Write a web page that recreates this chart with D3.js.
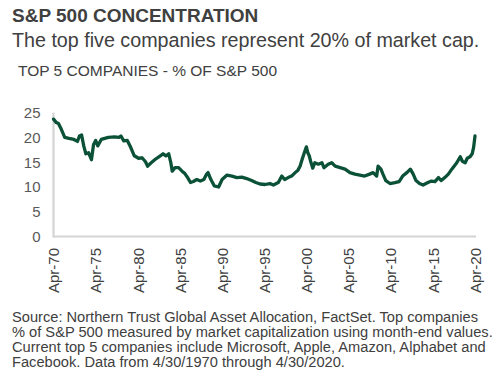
<!DOCTYPE html>
<html>
<head>
<meta charset="utf-8">
<script src="https://cdn.jsdelivr.net/npm/d3@7"></script>
<style>
  html, body { margin: 0; padding: 0; background: #fff; }
  svg { display: block; font-family: "Liberation Sans", Arial, sans-serif; }
</style>
</head>
<body>
<svg id="chart" width="500" height="379"></svg>
<script>
const title = "S&P 500 CONCENTRATION";
const subtitle = "The top five companies represent 20% of market cap.";
const axisTitle = "TOP 5 COMPANIES - % OF S&P 500";
const footnote = [
  "Source: Northern Trust Global Asset Allocation, FactSet. Top companies",
  "% of S&P 500 measured by market capitalization using month-end values.",
  "Current top 5 companies include Microsoft, Apple, Amazon, Alphabet and",
  "Facebook. Data from 4/30/1970 through 4/30/2020."
];

const months = [
  "1970-04","1970-08","1970-11","1971-03","1971-08","1972-02","1972-09","1973-02","1973-05","1973-08",
  "1973-11","1974-02","1974-06","1974-10","1975-01","1975-04","1975-07","1975-12","1976-10","1977-07",
  "1978-01","1978-04","1978-08","1979-01","1979-05","1979-11","1980-05","1980-10","1981-03","1981-06",
  "1981-11","1982-05","1982-12","1983-04","1983-08","1983-12","1984-03","1984-05","1984-09","1985-02",
  "1985-07","1985-11","1986-03","1986-07","1986-11","1987-04","1987-09","1988-02","1988-06","1988-08",
  "1988-12","1989-05","1989-11","1990-04","1990-11","1991-06","1992-01","1992-08","1993-03","1993-10",
  "1994-04","1994-10","1995-05","1995-12","1996-05","1996-12","1997-05","1997-09","1998-02","1998-07",
  "1998-12","1999-04","1999-07","1999-10","2000-01","2000-04","2000-06","2000-08","2000-10","2001-01",
  "2001-04","2001-09","2002-02","2002-05","2002-11","2003-04","2003-09","2004-04","2004-11","2005-06",
  "2006-01","2006-08","2007-03","2007-10","2008-03","2008-08","2008-10","2009-02","2009-05","2009-09",
  "2010-03","2010-10","2011-04","2011-09","2012-03","2012-08","2012-12","2013-04","2013-09","2014-02",
  "2014-09","2015-02","2015-07","2015-12","2016-04","2016-09","2017-02","2017-07","2018-02","2018-07",
  "2018-10","2019-02","2019-05","2019-09","2019-12","2020-02","2020-04"
];
const values = [
  23.7,23.0,22.8,21.7,20.0,19.8,19.6,19.2,20.3,20.5,
  18.3,16.7,16.9,15.5,18.6,19.4,18.3,19.6,20.0,20.1,
  20.0,20.3,19.3,19.4,18.3,16.3,15.8,15.9,15.1,14.2,
  14.9,15.6,16.3,16.7,16.3,16.7,14.9,13.2,13.9,13.9,
  13.2,12.7,11.9,10.9,11.1,11.5,11.2,11.5,12.6,12.9,
  11.5,10.2,10.0,11.5,12.4,12.2,11.9,12.0,11.7,11.3,
  10.9,10.6,10.5,10.7,10.4,10.9,12.2,11.5,11.9,12.2,
  12.9,13.4,14.2,15.6,16.9,18.1,16.9,16.3,15.2,13.8,
  14.9,14.6,14.9,13.9,14.6,14.9,14.2,13.9,13.6,12.9,
  12.6,12.4,12.2,12.6,12.9,12.2,14.2,13.6,12.6,11.3,
  10.7,10.9,11.1,12.2,12.9,13.6,12.6,11.3,10.7,10.4,
  10.9,11.2,11.1,11.9,11.3,11.9,12.6,13.6,14.9,16.1,
  15.2,14.9,15.8,16.1,16.7,18.0,20.3
];
const yTicks = [0, 5, 10, 15, 20, 25];
const xTickYears = [1970, 1975, 1980, 1985, 1990, 1995, 2000, 2005, 2010, 2015, 2020];

const parse = d3.timeParse("%Y-%m");
const data = months.map((m, i) => ({ date: parse(m), value: values[i] }));

const svg = d3.select("#chart");
const textColor = "#404040";

svg.append("text").attr("x", 12).attr("y", 22)
  .attr("font-size", 19).attr("font-weight", "bold").attr("fill", textColor).text(title);
svg.append("text").attr("x", 12).attr("y", 47)
  .attr("font-size", 19.7).attr("fill", textColor).text(subtitle);
svg.append("text").attr("x", 18).attr("y", 76)
  .attr("font-size", 15.5).attr("fill", textColor).text(axisTitle);

const x = d3.scaleTime()
  .domain([parse("1970-04"), parse("2020-04")])
  .range([53.5, 475]);
const y = d3.scaleLinear().domain([0, 25]).range([236.5, 112.7]);

// axes
const xAxis = d3.axisBottom(x)
  .tickValues(xTickYears.map(yr => new Date(yr, 3, 1)))
  .tickFormat(d3.timeFormat("Apr-%y"))
  .tickSize(0).tickPadding(0);
const gx = svg.append("g").attr("transform", `translate(0,${y(0)})`).call(xAxis);
gx.select(".domain").attr("stroke", "#d4d4d4").attr("stroke-width", 2.2)
  .attr("d", `M${x.range()[0]},0H${x.range()[1] + 1}`);
gx.selectAll(".tick text")
  .attr("font-size", 15).attr("fill", textColor)
  .attr("font-family", "Liberation Sans, Arial, sans-serif")
  .attr("text-anchor", "end")
  .attr("dy", "0.35em")
  .attr("transform", "translate(0,11.5) rotate(-90)")
  .attr("x", 0).attr("y", 0);

const yAxis = d3.axisLeft(y).tickValues(yTicks).tickSize(0).tickPadding(13);
const gy = svg.append("g").attr("transform", `translate(${x.range()[0]},0)`).call(yAxis);
gy.select(".domain").attr("stroke", "#d4d4d4").attr("stroke-width", 2.2)
  .attr("d", `M0,${y(25)}V${y(0) + 1}`);
gy.selectAll(".tick text")
  .attr("font-size", 15).attr("fill", "#595959")
  .attr("font-family", "Liberation Sans, Arial, sans-serif");

// line
const line = d3.line().x(d => x(d.date)).y(d => y(d.value));
svg.append("path").datum(data)
  .attr("fill", "none").attr("stroke", "#0b5137").attr("stroke-width", 3.3)
  .attr("stroke-linejoin", "round").attr("stroke-linecap", "round")
  .attr("d", line);

// footnote
svg.append("g").selectAll("text").data(footnote).join("text")
  .attr("x", 12).attr("y", (d, i) => 322 + i * 15)
  .attr("font-size", 14.65).attr("fill", textColor).text(d => d);
</script>
</body>
</html>
